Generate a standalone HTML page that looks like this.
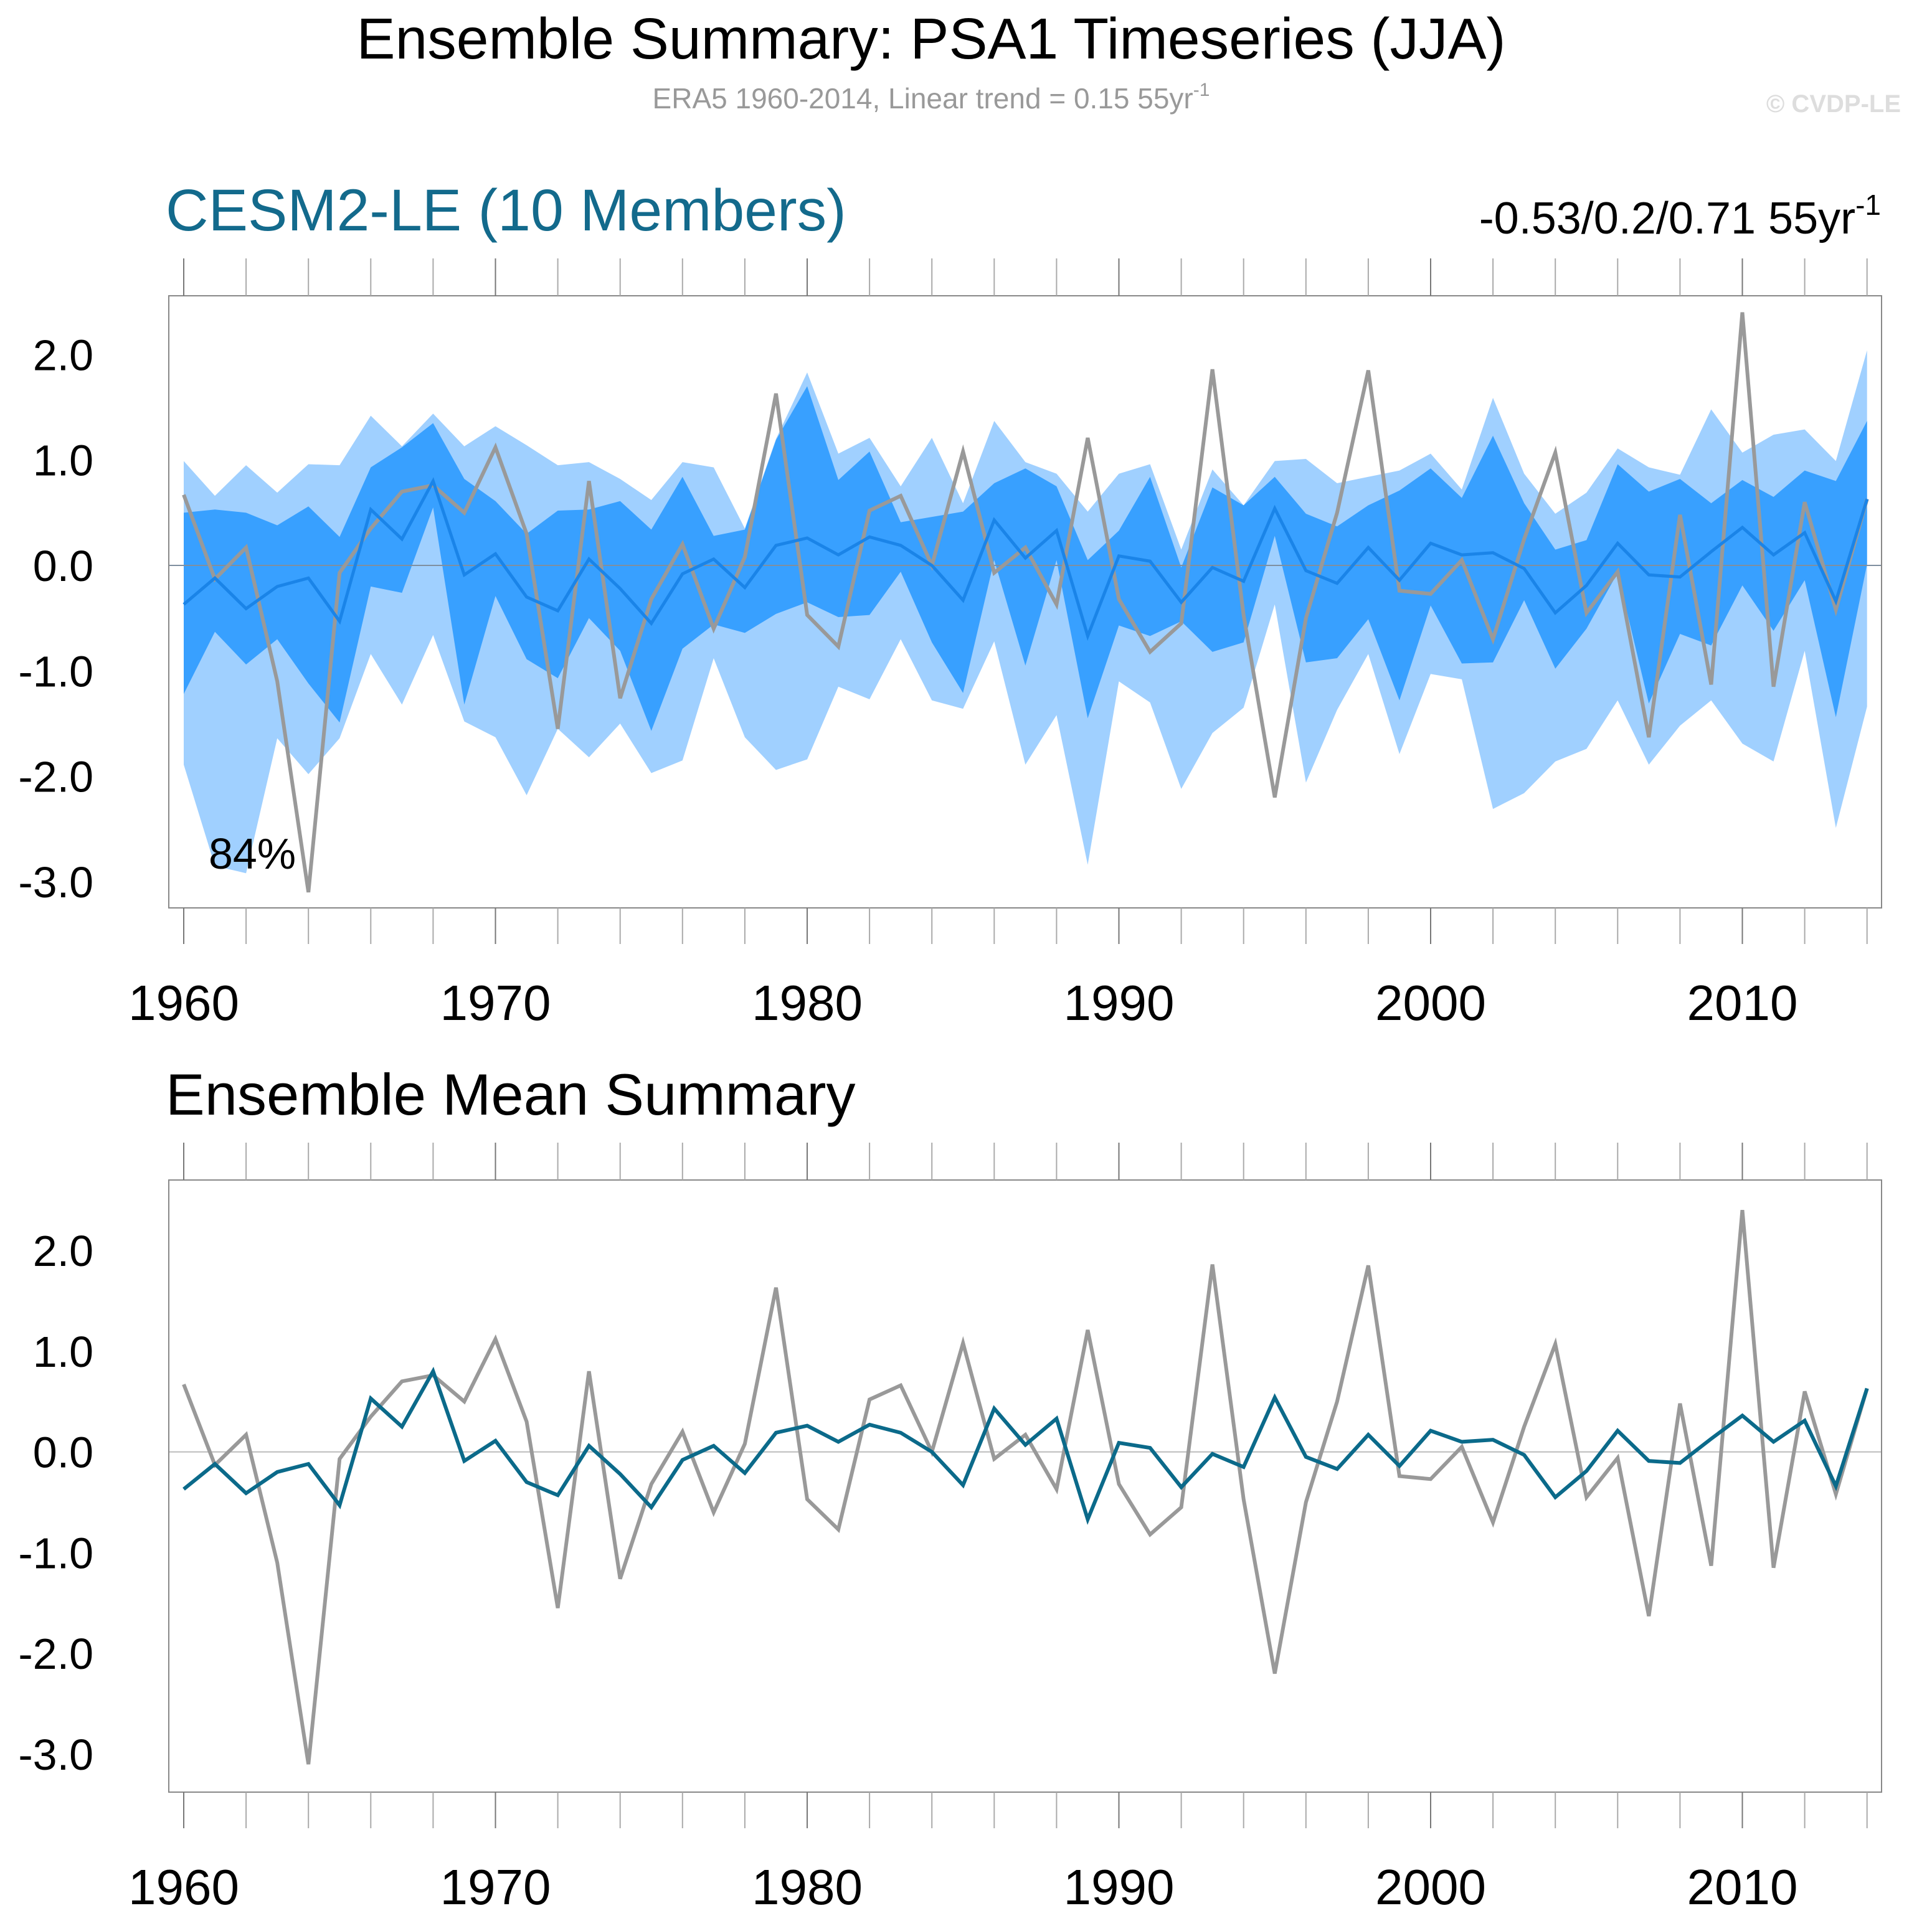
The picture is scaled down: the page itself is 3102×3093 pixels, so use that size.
<!DOCTYPE html>
<html><head><meta charset="utf-8">
<style>
html,body{margin:0;padding:0;background:#fff;}
svg{display:block;font-family:"Liberation Sans",Arial,sans-serif;}
</style></head>
<body>
<svg id="chart" width="3102" height="3093" viewBox="0 0 3102 3093" xmlns="http://www.w3.org/2000/svg">
<rect x="0" y="0" width="3102" height="3093" fill="#fff"/>
<text x="1495" y="94" font-size="93" text-anchor="middle" fill="#000">Ensemble Summary: PSA1 Timeseries (JJA)</text>
<text x="1495" y="174" font-size="46" text-anchor="middle" fill="#999">ERA5 1960-2014, Linear trend = 0.15 55yr<tspan dy="-20" font-size="30">-1</tspan></text>
<text x="3052" y="180" font-size="40" font-weight="bold" text-anchor="end" fill="#ddd">© CVDP-LE</text>
<text x="266" y="370" font-size="95" fill="#136a8c">CESM2-LE (10 Members)</text>
<text x="3020" y="375" font-size="72" text-anchor="end" fill="#000">-0.53/0.2/0.71 55yr<tspan dy="-30" font-size="46">-1</tspan></text>
<text x="266" y="1790" font-size="94" fill="#000">Ensemble Mean Summary</text>
<g id="p1"></g>
<g id="p2"></g>
</svg>
<script>
const years = [];
for (let y = 1960; y <= 2014; y++) years.push(y);
const era5 = [0.67,-0.13,0.17,-1.1,-3.1,-0.07,0.35,0.7,0.76,0.5,1.12,0.3,-1.55,0.8,-1.26,-0.32,0.2,-0.6,0.08,1.63,-0.47,-0.77,0.52,0.66,0.0,1.08,-0.07,0.17,-0.37,1.21,-0.32,-0.82,-0.55,1.86,-0.47,-2.2,-0.5,0.5,1.85,-0.24,-0.27,0.05,-0.7,0.25,1.07,-0.45,-0.06,-1.63,0.48,-1.13,2.4,-1.15,0.6,-0.42,0.63];
const ensMean = [-0.37,-0.12,-0.41,-0.2,-0.12,-0.53,0.53,0.25,0.8,-0.09,0.11,-0.3,-0.43,0.06,-0.22,-0.55,-0.08,0.06,-0.21,0.19,0.26,0.1,0.27,0.19,0.0,-0.33,0.43,0.07,0.33,-0.67,0.09,0.04,-0.35,-0.02,-0.15,0.54,-0.05,-0.17,0.17,-0.14,0.21,0.1,0.12,-0.03,-0.45,-0.19,0.21,-0.09,-0.11,0.13,0.36,0.1,0.31,-0.34,0.63];
const outerTop = [0.99,0.66,0.95,0.69,0.96,0.95,1.42,1.13,1.44,1.13,1.32,1.14,0.95,0.98,0.82,0.62,0.98,0.93,0.35,1.2,1.83,1.06,1.21,0.75,1.21,0.59,1.37,0.98,0.87,0.51,0.87,0.96,0.15,0.91,0.57,0.99,1.01,0.78,0.84,0.9,1.06,0.72,1.59,0.87,0.49,0.69,1.11,0.93,0.86,1.48,1.07,1.24,1.29,0.99,2.04];
const innerTop = [0.5,0.53,0.5,0.38,0.56,0.27,0.93,1.12,1.35,0.82,0.61,0.3,0.52,0.53,0.61,0.34,0.84,0.28,0.34,1.19,1.7,0.81,1.08,0.41,0.46,0.51,0.78,0.92,0.75,0.05,0.33,0.84,-0.02,0.74,0.57,0.84,0.49,0.37,0.57,0.71,0.92,0.64,1.23,0.59,0.15,0.24,0.96,0.7,0.82,0.59,0.81,0.65,0.9,0.8,1.37];
const innerBot = [-1.22,-0.63,-0.94,-0.7,-1.12,-1.49,-0.2,-0.26,0.55,-1.32,-0.29,-0.89,-1.07,-0.5,-0.81,-1.57,-0.79,-0.56,-0.64,-0.46,-0.35,-0.49,-0.47,-0.06,-0.73,-1.21,0.05,-0.95,0.05,-1.45,-0.57,-0.67,-0.53,-0.82,-0.73,0.28,-0.92,-0.88,-0.51,-1.28,-0.38,-0.93,-0.92,-0.33,-0.98,-0.6,-0.07,-1.31,-0.65,-0.76,-0.19,-0.62,-0.14,-1.44,0.01];
const outerBot = [-1.89,-2.85,-2.92,-1.64,-1.98,-1.64,-0.84,-1.32,-0.66,-1.48,-1.63,-2.18,-1.55,-1.82,-1.5,-1.97,-1.85,-0.88,-1.63,-1.94,-1.84,-1.15,-1.27,-0.7,-1.28,-1.36,-0.72,-1.89,-1.42,-2.84,-1.1,-1.3,-2.12,-1.59,-1.35,-0.37,-2.06,-1.37,-0.84,-1.79,-1.03,-1.08,-2.31,-2.16,-1.86,-1.74,-1.28,-1.89,-1.52,-1.28,-1.69,-1.86,-0.81,-2.49,-1.34];
const yTicks = [2, 1, 0, -1, -2, -3];
const yTickLabels = ["2.0","1.0","0.0","-1.0","-2.0","-3.0"];
const xTicks = [1960,1970,1980,1990,2000,2010];

const NS = "http://www.w3.org/2000/svg";
function mk(parent, tag, attrs) {
  const e = document.createElementNS(NS, tag);
  for (const k in attrs) e.setAttribute(k, attrs[k]);
  parent.appendChild(e);
  return e;
}
function xScale(yr) { return 295 + (yr - 1960) * 50.05; }

function drawPanel(g, box, zeroY, unit, isTop) {
  const yS = v => zeroY - v * unit;
  const xLeft = box.l, xRight = box.r;
  if (isTop) {
    const outer = years.map((y,i)=>xScale(y)+","+yS(outerTop[i])).join(" ") + " " +
      years.slice().reverse().map((y,j)=>{const i=years.length-1-j;return xScale(y)+","+yS(outerBot[i]);}).join(" ");
    const p1 = mk(g, "polygon", {points: outer, fill: "#a0d0ff"});
    
    
    const inner = years.map((y,i)=>xScale(y)+","+yS(innerTop[i])).join(" ") + " " +
      years.slice().reverse().map((y,j)=>{const i=years.length-1-j;return xScale(y)+","+yS(innerBot[i]);}).join(" ");
    const p2 = mk(g, "polygon", {points: inner, fill: "#38a0ff"});
    
    
  }
  const z = mk(g, "line", {x1: xLeft, x2: xRight, y1: zeroY, y2: zeroY, stroke: isTop ? "#7f8f9f" : "#bbb", "stroke-width": 2});
  
  
  const gl = mk(g, "polyline", {points: years.map((y,i)=>xScale(y)+","+yS(era5[i])).join(" "), fill: "none", stroke: "#999", "stroke-width": 6});
  
  
  const ml = mk(g, "polyline", {points: years.map((y,i)=>xScale(y)+","+yS(ensMean[i])).join(" "), fill: "none", stroke: isTop ? "#1a84e8" : "#0b6a8a", "stroke-width": isTop ? 5 : 6});
  
  
  const fr = mk(g, "rect", {x: xLeft, y: box.t, width: xRight - xLeft, height: box.b - box.t, fill: "none", stroke: "#888", "stroke-width": 2});
  
  
  const vmin = (zeroY - box.b) / unit * -1, vmax = (zeroY - box.t) / unit;
  for (let k = Math.ceil(vmin*5); k <= Math.floor(vmax*5); k++) {
    const v = k / 5, yy = yS(v), major = (k % 5 === 0);
    const len = major ? 62 : 31;
    const t1 = mk(g, "line", {x1: xLeft - len, x2: xLeft, y1: yy, y2: yy, stroke: "#888", "stroke-width": 2});
    
    
    const t2 = mk(g, "line", {x1: xRight, x2: xRight + len, y1: yy, y2: yy, stroke: "#888", "stroke-width": 2});
    
    
  }
  yTicks.forEach((v,i)=>{
    const t = mk(g, "text", {x: 150, y: yS(v) + 25, "font-size": 70, "text-anchor": "end", fill: "#000"});
    t.textContent = yTickLabels[i];
    
    
  });
  for (let yr = 1960; yr <= 2014; yr += 2) {
    const xx = xScale(yr), major = (yr % 10 === 0);
    const c = major ? "#777" : "#aaa";
    const a = mk(g, "line", {x1: xx, x2: xx, y1: box.t - 60, y2: box.t, stroke: c, "stroke-width": 2});
    
    
    const b = mk(g, "line", {x1: xx, x2: xx, y1: box.b, y2: box.b + 58, stroke: c, "stroke-width": 2});
    
    
  }
  xTicks.forEach(yr=>{
    const t = mk(g, "text", {x: xScale(yr), y: box.b + 180, "font-size": 80, "text-anchor": "middle", fill: "#000"});
    t.textContent = String(yr);
    
    
  });
}
drawPanel(document.getElementById("p1"), {l: 271, r: 3021, t: 475, b: 1458}, 908, 169.3, true);
drawPanel(document.getElementById("p2"), {l: 271, r: 3021, t: 1895, b: 2878}, 2331.6, 161.8, false);
const pct = document.createElementNS(NS, "text");
pct.setAttribute("x", 335); pct.setAttribute("y", 1395); pct.setAttribute("font-size", 70);
pct.textContent = "84%";


document.getElementById("p1").appendChild(pct);
</script>
</body></html>
